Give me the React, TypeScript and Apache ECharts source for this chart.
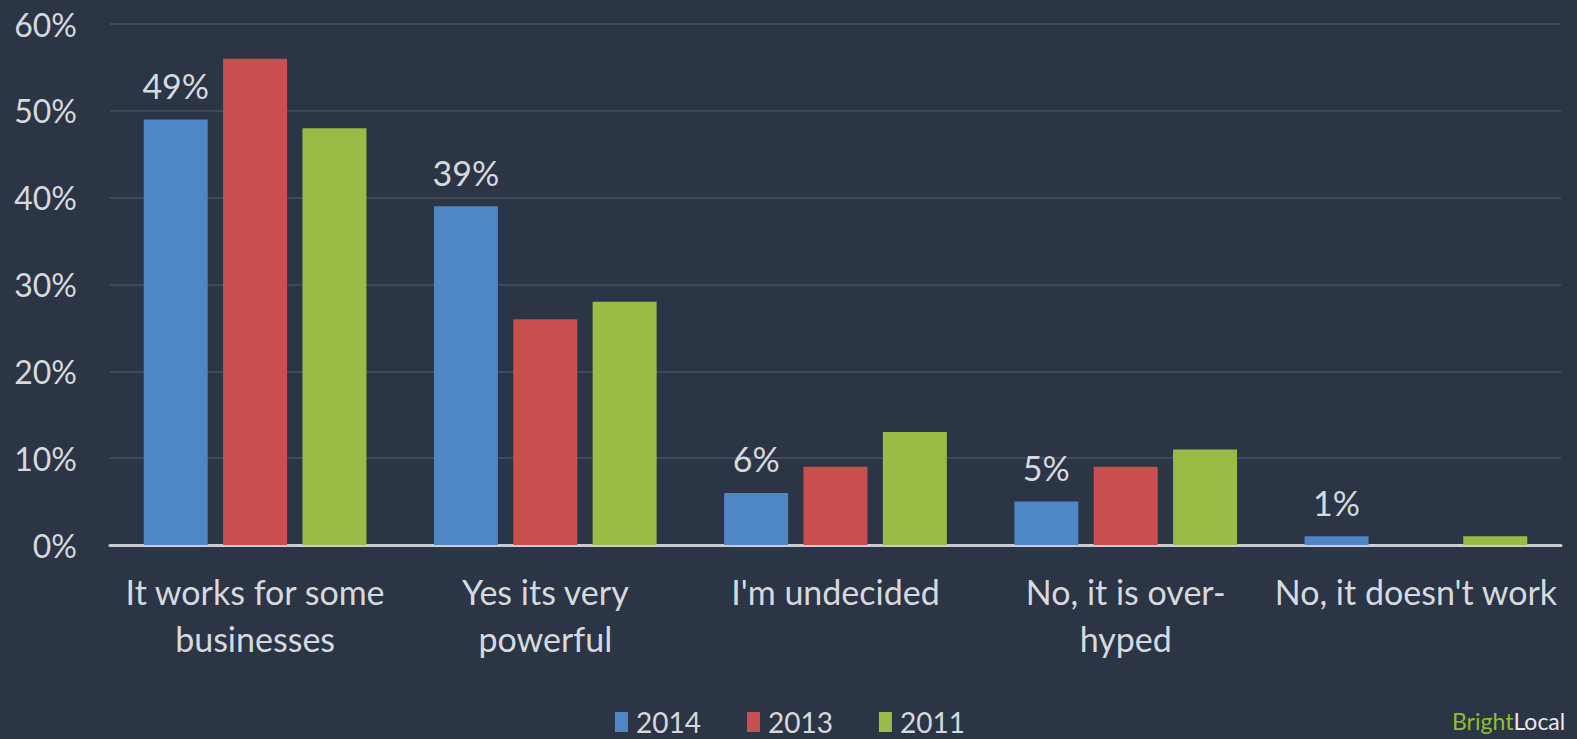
import React, { useEffect, useRef } from "react";
import * as echarts from "echarts";

const categories = [
  "It works for some\nbusinesses",
  "Yes its very\npowerful",
  "I'm undecided",
  "No, it is over-\nhyped",
  "No, it doesn't work",
];
const seriesNames = ["2014", "2013", "2011"];
const values2014 = [49, 39, 6, 5, 1];
const values2013 = [56, 26, 9, 9, 0];
const values2011 = [48, 28, 13, 11, 1];
const colors = ["#4f86c6", "#c9504e", "#9bbb46"];

const FONT = "Lato, 'Noto Sans', sans-serif";
const TEXT = "#d6d9dd";

export default function App() {
  const ref = useRef<HTMLDivElement>(null);
  useEffect(() => {
    if (!ref.current) return;
    const chart = echarts.init(ref.current, undefined, { renderer: "svg" });
    const data = [values2014, values2013, values2011];
    chart.setOption({
      animation: false,
      backgroundColor: "#2b3545",
      textStyle: { fontFamily: FONT },
      grid: { left: 110, right: 16, top: 24, bottom: 194, containLabel: false },
      legend: {
        data: seriesNames,
        left: 610,
        top: 703,
        itemWidth: 13,
        itemHeight: 20,
        itemGap: 46,
        icon: "rect",
        textStyle: {
          color: TEXT,
          fontSize: 28,
          lineHeight: 28,
          fontFamily: FONT,
          padding: [0, 0, 0, 3],
        },
      },
      xAxis: {
        type: "category",
        data: categories,
        axisTick: { show: false },
        axisLine: { lineStyle: { color: "#c9cdd2", width: 3 } },
        axisLabel: {
          color: TEXT,
          fontSize: 34,
          lineHeight: 47,
          margin: 23,
          interval: 0,
          fontFamily: FONT,
        },
      },
      yAxis: {
        type: "value",
        min: 0,
        max: 60,
        interval: 10,
        axisLine: { show: false },
        axisTick: { show: false },
        splitLine: { lineStyle: { color: "#3e4959", width: 2 } },
        axisLabel: {
          color: TEXT,
          fontSize: 32,
          margin: 33,
          formatter: "{value}%",
          fontFamily: FONT,
        },
      },
      series: seriesNames.map((name, i) => ({
        name,
        type: "bar",
        data: data[i],
        barWidth: 64,
        barGap: "24%",
        itemStyle: { color: colors[i] },
        label:
          i === 0
            ? {
                show: true,
                position: "top",
                distance: 17,
                formatter: "{c}%",
                color: TEXT,
                fontSize: 34,
                fontFamily: FONT,
              }
            : { show: false },
      })),
      color: colors,
      graphic: [
        {
          type: "text",
          left: 1452,
          top: 709,
          style: {
            text: "{g|Bright}{w|Local}",
            rich: {
              g: { fill: "#8fbf2f", fontSize: 23, fontFamily: FONT },
              w: { fill: "#e8eaec", fontSize: 23, fontFamily: FONT },
            },
          },
        },
      ],
    });
    return () => chart.dispose();
  }, []);
  return (
    <div
      ref={ref}
      style={{ position: "fixed", left: 0, top: 0, width: 1577, height: 739 }}
    />
  );
}
